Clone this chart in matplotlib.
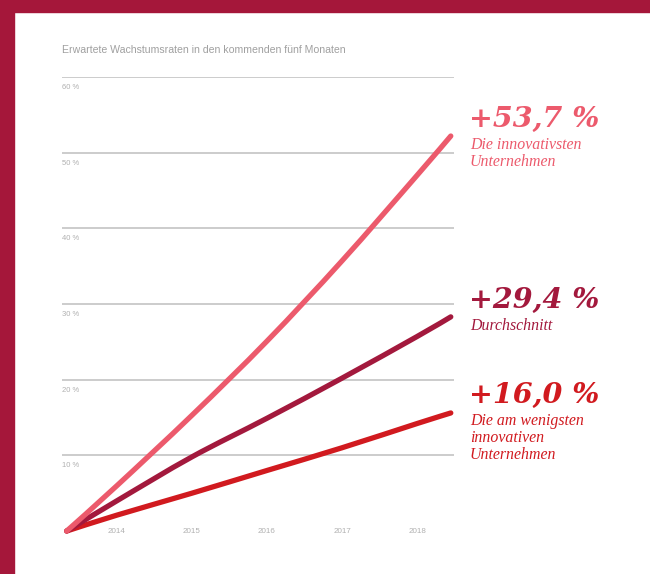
import matplotlib.pyplot as plt
from matplotlib.patches import Rectangle, PathPatch
from matplotlib.path import Path

# x positions (years); first/last are the start and end of the lines
years = [2013.33, 2014, 2015, 2016, 2017, 2018, 2018.45]
top_innovators = [0, 6.0, 15.3, 25.1, 35.7, 47.0, 52.2]
average = [0, 4.0, 9.8, 14.9, 20.2, 25.7, 28.3]
least_innovative = [0, 2.1, 5.0, 8.0, 11.0, 14.2, 15.6]

year_ticks = [2014, 2015, 2016, 2017, 2018]
y_grid = [10, 20, 30, 40, 50, 60]

growth = [53.7, 29.4, 16.0]
names = ["Die innovativsten\nUnternehmen",
         "Durchschnitt",
         "Die am wenigsten\ninnovativen\nUnternehmen"]
colors = ["#EC5A6C", "#A3193D", "#D11A1F"]
frame_color = "#A5173A"


def smooth_path(xs, ys):
    # catmull-rom through the points, drawn as cubic bezier segments
    pts = list(zip(xs, ys))
    verts = [pts[0]]
    codes = [Path.MOVETO]
    n = len(pts)
    for i in range(n - 1):
        p0 = pts[max(i - 1, 0)]
        p1 = pts[i]
        p2 = pts[i + 1]
        p3 = pts[min(i + 2, n - 1)]
        c1 = (p1[0] + (p2[0] - p0[0]) / 6, p1[1] + (p2[1] - p0[1]) / 6)
        c2 = (p2[0] - (p3[0] - p1[0]) / 6, p2[1] - (p3[1] - p1[1]) / 6)
        verts += [c1, c2, p2]
        codes += [Path.CURVE4] * 3
    return Path(verts, codes)


W, H = 650, 574
fig = plt.figure(figsize=(W / 100, H / 100), dpi=100)

# red frame on top and left
fig.patches.append(Rectangle((0, 1 - 12 / H), 1, 12 / H, transform=fig.transFigure,
                             color=frame_color, zorder=0))
fig.patches.append(Rectangle((0, 0), 14 / W, 1, transform=fig.transFigure,
                             color=frame_color, zorder=0))

ax = fig.add_axes([62 / W, (H - 531) / H, 392 / W, 454 / H])
ax.set_xlim(2013.267, 2018.493)
ax.set_ylim(0, 60)
ax.axis("off")

for g in y_grid:
    ax.axhline(g, color="#c4c4c4", lw=1.2, zorder=1)
    ax.text(2013.267, g - 1.4, f"{g} %", color="#b0b0b0", fontsize=5.5,
            family="Liberation Sans", ha="left", va="center")

for yr in year_ticks:
    ax.text(yr, -0.1, str(yr), color="#b0b0b0", fontsize=5.8,
            family="Liberation Sans", ha="center", va="center")

for series, c, z in [(least_innovative, colors[2], 3),
                     (average, colors[1], 4),
                     (top_innovators, colors[0], 5)]:
    patch = PathPatch(smooth_path(years, series), fill=False, edgecolor=c, lw=3.8,
                      capstyle="round", joinstyle="round", zorder=z)
    patch.set_clip_on(False)
    ax.add_patch(patch)

fig.text(62 / W, 1 - 50 / H, "Erwartete Wachstumsraten in den kommenden fünf Monaten",
         color="#a0a0a0", fontsize=7.6, family="Liberation Sans", ha="left", va="center")

# value labels on the right (pixel positions of the headline numbers)
label_y = [119, 300, 395]
for val, name, c, ly in zip(growth, names, colors, label_y):
    txt = f"+{val:.1f} %".replace(".", ",")
    fig.text(469 / W, 1 - ly / H, txt, color=c, fontsize=20.5, family="DejaVu Serif",
             weight="bold", style="italic", ha="left", va="center")
    fig.text(470 / W, 1 - (ly + 18) / H, name, color=c, fontsize=11.4,
             family="Liberation Serif", style="italic", ha="left", va="top",
             linespacing=1.1)

fig.savefig("out.png", dpi=100)
